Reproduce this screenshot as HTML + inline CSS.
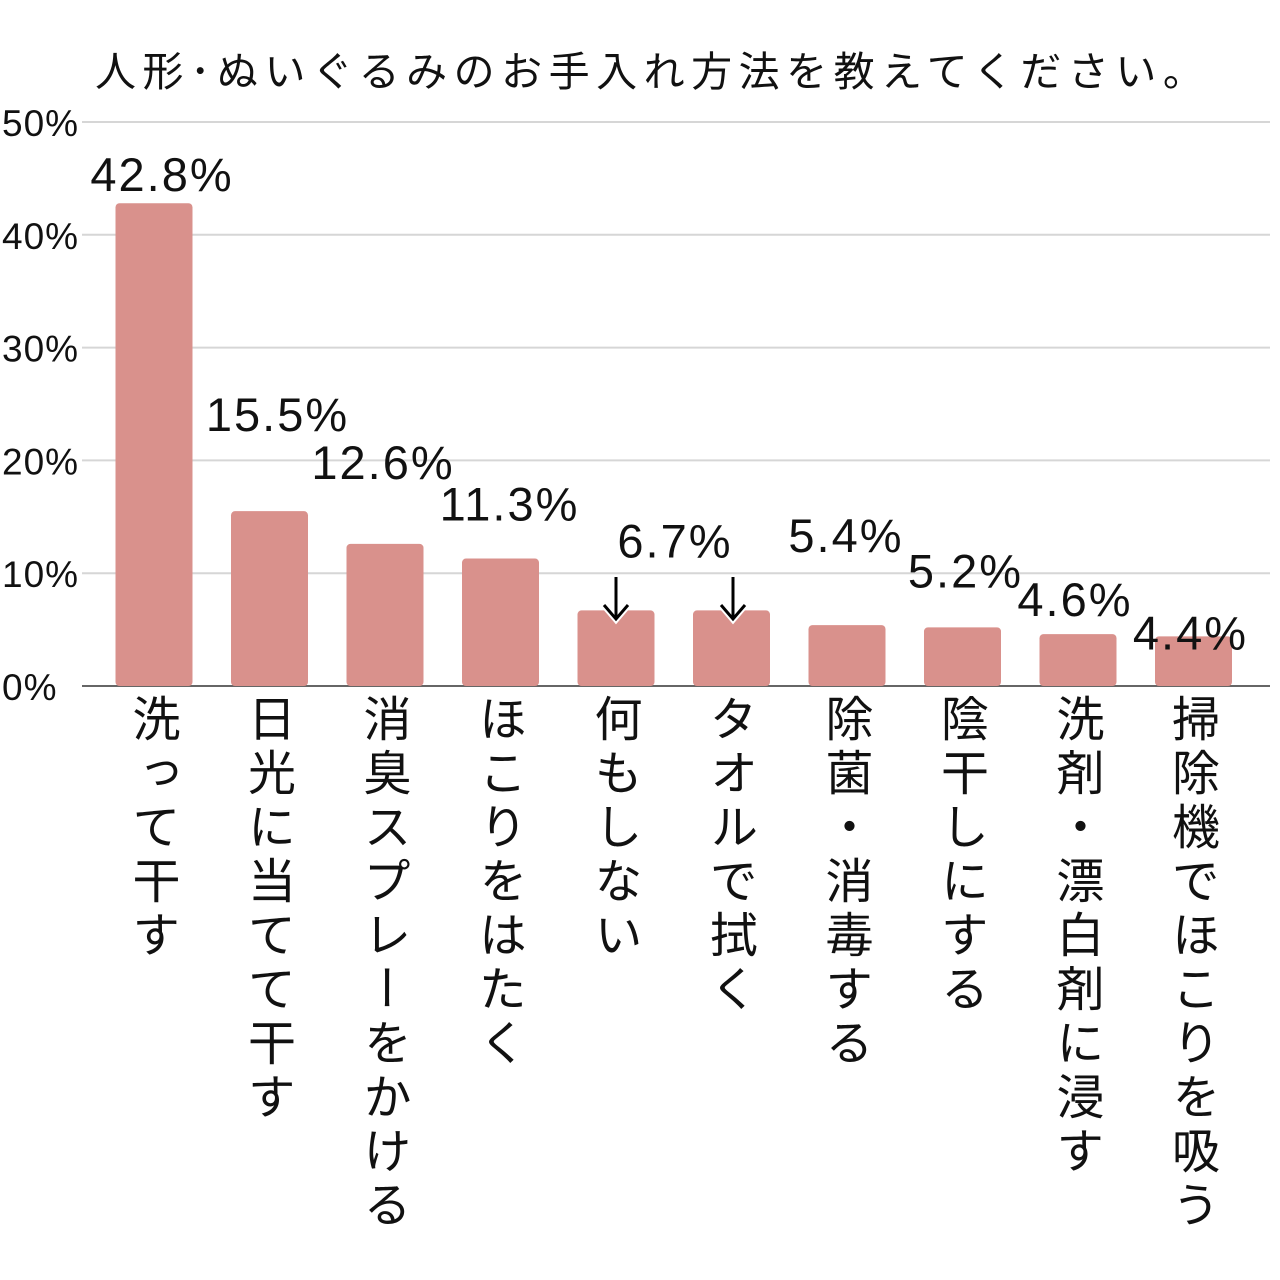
<!DOCTYPE html>
<html><head><meta charset="utf-8"><style>
html,body{margin:0;padding:0;background:#fff;}
svg{display:block;font-family:"Liberation Sans","Noto Sans CJK JP",sans-serif;}
</style></head><body>
<svg id="chart" width="1280" height="1280" viewBox="0 0 1280 1280">
<text x="95" y="86" font-size="41" letter-spacing="6.5" fill="#111">人形･ぬいぐるみのお手入れ方法を教えてください。</text>
<g id="grid"></g><g id="bars"></g><g id="labels"></g><g id="cats"></g>
<g stroke-linecap="butt">
<path d="M616 577 V618 M604 605 L616 619 L628 605" fill="none" stroke="#fff" stroke-width="7"/>
<path d="M616 577 V618 M604 605 L616 619 L628 605" fill="none" stroke="#000" stroke-width="3"/>
<path d="M733 577 V618 M721 605 L733 619 L745 605" fill="none" stroke="#fff" stroke-width="7"/>
<path d="M733 577 V618 M721 605 L733 619 L745 605" fill="none" stroke="#000" stroke-width="3"/>
</g>
</svg>
<script>
const categories = ["洗って干す","日光に当てて干す","消臭スプレーをかける","ほこりをはたく","何もしない","タオルで拭く","除菌・消毒する","陰干しにする","洗剤・漂白剤に浸す","掃除機でほこりを吸う"];
const values = [42.8,15.5,12.6,11.3,6.7,6.7,5.4,5.2,4.6,4.4];
const valueLabels = ["42.8%","15.5%","12.6%","11.3%","6.7%","","5.4%","5.2%","4.6%","4.4%"];
const yTicks = [0,10,20,30,40,50];
const yTickLabels = ["0%","10%","20%","30%","40%","50%"];
// label placement offsets (style)
const labelDx = [8,8,-2,9,59,0,-1,3,-3,-3];
const labelDy = [-12,-80,-65,-38,-53,0,-73,-40,-18,13];

const NS="http://www.w3.org/2000/svg";
const y0=686, yTop=122, x0=82, x1=1270;
const yS=v=>y0-(v/50)*(y0-yTop);
const xC=i=>154+i*115.5;
const bw=77;
function mk(t,a,p){const e=document.createElementNS(NS,t);for(const k in a)e.setAttribute(k,a[k]);p.appendChild(e);return e;}
const grid=document.getElementById('grid');
yTicks.forEach((t,i)=>{
  const y=yS(t);
  const l=mk('line',{x1:x0,x2:x1,y1:y,y2:y,stroke:t===0?'#666':'#d6d6d6','stroke-width':2},grid);
  
  
  const tx=mk('text',{x:2,y:y+14,'font-size':37,'letter-spacing':1,fill:'#111'},grid);
  tx.textContent=yTickLabels[i];
  
  
});
const bars=document.getElementById('bars'),labels=document.getElementById('labels'),cats=document.getElementById('cats');
values.forEach((v,i)=>{
  const y=yS(v);
  const r=mk('rect',{x:xC(i)-bw/2,y:y,width:bw,height:y0-y,rx:4,fill:'#d9918c'},bars);
  
  
  if(valueLabels[i]){
    const t=mk('text',{x:xC(i)+labelDx[i],y:y+labelDy[i],'font-size':47,'letter-spacing':2,fill:'#111','text-anchor':'middle'},labels);
    t.textContent=valueLabels[i];
    
    
  }
  const c=mk('text',{x:xC(i)-3,y:694,'font-size':48,fill:'#111','writing-mode':'vertical-rl','letter-spacing':'6'},cats);
  c.style.writingMode='vertical-rl';
  c.textContent=categories[i];
  
  
});
</script>
</body></html>
